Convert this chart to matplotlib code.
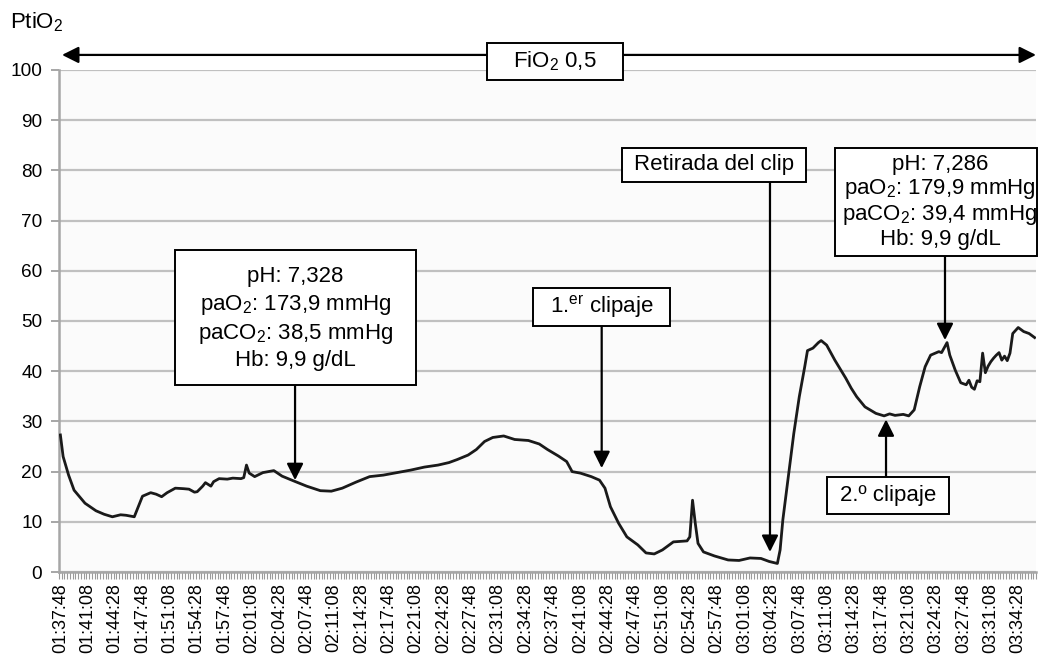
import matplotlib
matplotlib.use('Agg')
import matplotlib.pyplot as plt
from matplotlib.patches import Rectangle
from matplotlib.ticker import MultipleLocator, FixedLocator

plt.rcParams['font.family'] = ['Liberation Sans', 'DejaVu Sans']
plt.rcParams['mathtext.fontset'] = 'custom'
plt.rcParams['mathtext.rm'] = 'Liberation Sans'
plt.rcParams['mathtext.it'] = 'Liberation Sans:italic'
plt.rcParams['mathtext.bf'] = 'Liberation Sans:bold'
plt.rcParams['mathtext.default'] = 'regular'

# seconds after 01:37:48 (one sample = 20 s) and PtiO2 reading
t_s = [0, 20, 60, 100, 180, 260, 320, 380, 440, 480, 540, 580, 600, 660, 700,
       740, 780, 840, 900, 940, 980, 1000, 1040, 1060, 1100, 1120, 1160, 1220,
       1260, 1320, 1340, 1360, 1380, 1420, 1480, 1560, 1620, 1700, 1800, 1900,
       1980, 2060, 2160, 2260, 2360, 2460, 2560, 2660, 2760, 2840, 2900, 2980,
       3040, 3100, 3160, 3240, 3320, 3420, 3500, 3560, 3640, 3700, 3740, 3800,
       3880, 3940, 3980, 4020, 4080, 4140, 4220, 4280, 4340, 4400, 4480, 4580,
       4600, 4620, 4640, 4660, 4700, 4780, 4880, 4960, 5040, 5120, 5180, 5240,
       5260, 5280, 5320, 5360, 5400, 5440, 5460, 5500, 5540, 5560, 5600, 5660,
       5740, 5780, 5820, 5880, 5960, 6020, 6060, 6100, 6160, 6200, 6240, 6280,
       6320, 6360, 6420, 6440, 6480, 6500, 6540, 6580, 6620, 6640, 6660, 6680,
       6700, 6720, 6740, 6760, 6780, 6800, 6820, 6840, 6860, 6880, 6900, 6920,
       6940, 6960, 7000, 7040, 7080, 7120]
ptio2 = [27.3, 23.0, 19.3, 16.3, 13.7, 12.2, 11.5, 11.0, 11.4, 11.3, 11.0, 13.7,
         15.1, 15.8, 15.5, 15.0, 15.8, 16.7, 16.6, 16.5, 15.9, 16.0, 17.1, 17.8,
         17.1, 18.0, 18.6, 18.5, 18.7, 18.6, 18.8, 21.3, 19.7, 19.0, 19.8, 20.2,
         19.1, 18.2, 17.1, 16.2, 16.1, 16.7, 17.9, 19.0, 19.3, 19.8, 20.3, 20.9,
         21.3, 21.8, 22.4, 23.3, 24.4, 26.0, 26.8, 27.1, 26.4, 26.2, 25.5, 24.4,
         23.1, 22.0, 20.0, 19.7, 19.0, 18.3, 16.7, 13.0, 9.7, 7.0, 5.4, 3.8, 3.6,
         4.4, 6.0, 6.2, 7.0, 14.3, 9.7, 5.7, 4.0, 3.2, 2.4, 2.3, 2.8, 2.7, 2.1,
         1.7, 4.4, 10.4, 19.0, 27.6, 34.9, 40.9, 44.1, 44.6, 45.7, 46.1, 45.2,
         42.2, 38.6, 36.6, 34.9, 32.9, 31.6, 31.1, 31.5, 31.2, 31.4, 31.1, 32.3,
         36.9, 40.9, 43.2, 43.9, 43.7, 45.7, 43.2, 40.2, 37.7, 37.3, 38.2, 36.8,
         36.4, 38.1, 37.9, 43.6, 39.7, 41.0, 41.9, 42.6, 43.2, 43.7, 42.2, 43.0,
         42.1, 43.6, 47.5, 48.7, 47.9, 47.5, 46.7]

tick_labels = ['01:37:48', '01:41:08', '01:44:28', '01:47:48', '01:51:08',
               '01:54:28', '01:57:48', '02:01:08', '02:04:28', '02:07:48',
               '02:11:08', '02:14:28', '02:17:48', '02:21:08', '02:24:28',
               '02:27:48', '02:31:08', '02:34:28', '02:37:48', '02:41:08',
               '02:44:28', '02:47:48', '02:51:08', '02:54:28', '02:57:48',
               '03:01:08', '03:04:28', '03:07:48', '03:11:08', '03:14:28',
               '03:17:48', '03:21:08', '03:24:28', '03:27:48', '03:31:08',
               '03:34:28']
tick_pos = [200 * k for k in range(len(tick_labels))]

gas1 = 'pH: 7,328\npaO$_2$: 173,9 mmHg\npaCO$_2$: 38,5 mmHg\nHb: 9,9 g/dL'
gas2 = 'pH: 7,286\npaO$_2$: 179,9 mmHg\npaCO$_2$: 39,4 mmHg\nHb: 9,9 g/dL'

fig = plt.figure(figsize=(10.39, 6.59), dpi=100)
ax = fig.add_axes([0.0568, 0.132, 0.9403, 0.7618])
ax.set_facecolor('#fbfbfb')

ax.plot(t_s, ptio2, color='#1a1a1a', lw=2.0, zorder=3)

ax.set_xlim(-10, 7130)
ax.set_ylim(0, 100)
ax.yaxis.set_major_locator(MultipleLocator(10))
ax.grid(axis='y', color='#c0c0c0', lw=1.6, zorder=0)
ax.set_axisbelow(True)

ax.xaxis.set_major_locator(FixedLocator(tick_pos))
ax.set_xticklabels(tick_labels, rotation=90, fontsize=13)
ax.xaxis.set_minor_locator(FixedLocator([-10 + 20 * k for k in range(358)]))
ax.tick_params(axis='x', which='major', length=0, pad=8)
ax.tick_params(axis='x', which='minor', length=5, width=0.8, color='#9a9a9a')
ax.tick_params(axis='y', length=6, width=1.4, color='#a6a6a6', labelsize=13.7, pad=6)

for s in ['top', 'right']:
    ax.spines[s].set_visible(False)
for s in ['left', 'bottom']:
    ax.spines[s].set_color('#a6a6a6')
    ax.spines[s].set_linewidth(1.8)

fig.text(0.01, 0.967, 'PtiO$_2$', fontsize=16, ha='left', va='center')

arrow = dict(arrowstyle='-|>,head_length=0.5,head_width=0.25', color='black',
             lw=1.6, mutation_scale=20, shrinkA=0, shrinkB=0)


def label_box(x0, x1, y0, y1, text, tx=None, ty=None, spacing=1.2):
    ax.add_patch(Rectangle((x0, y0), x1 - x0, y1 - y0, fc='white', ec='black',
                           lw=1.4, zorder=5, clip_on=False))
    tx = (x0 + x1) / 2 if tx is None else tx
    ty = (y0 + y1) / 2 if ty is None else ty
    ax.text(tx, ty, text, fontsize=16, ha='center', va='center',
            linespacing=spacing, zorder=6, clip_on=False)


# FiO2 span across the whole recording
ax.annotate('', xy=(12, 103.0), xytext=(7130, 103.0), annotation_clip=False,
            arrowprops=dict(arrowstyle='<|-|>,head_length=0.5,head_width=0.25',
                            color='black', lw=1.6, mutation_scale=20,
                            shrinkA=0, shrinkB=0))
label_box(3116, 4110, 98.0, 105.4, 'FiO$_2$ 0,5')

# blood gas at 02:05
ax.annotate('', xy=(1715, 18.3), xytext=(1715, 37.3), arrowprops=arrow, zorder=4)
label_box(838, 2599, 37.25, 64.1, gas1, ty=50.4, spacing=1.3)

# first clip
ax.annotate('', xy=(3956, 20.7), xytext=(3956, 49.1), arrowprops=arrow, zorder=4)
label_box(3456, 4457, 49.1, 56.6, '1.$^{er}$ clipaje')

# clip removal
ax.annotate('', xy=(5186, 4.0), xytext=(5186, 77.7), arrowprops=arrow, zorder=4)
label_box(4105, 5450, 77.7, 84.5, 'Retirada del clip')

# blood gas at 03:25
ax.annotate('', xy=(6465, 46.2), xytext=(6465, 62.9), arrowprops=arrow, zorder=4)
label_box(5662, 7138, 62.9, 84.5, gas2, tx=6429, ty=73.8, spacing=1.12)

# second clip
ax.annotate('', xy=(6034, 30.4), xytext=(6034, 18.9), arrowprops=arrow, zorder=4)
label_box(5601, 6497, 11.5, 18.9, '2.º clipaje')

fig.savefig('out.png', dpi=100)
